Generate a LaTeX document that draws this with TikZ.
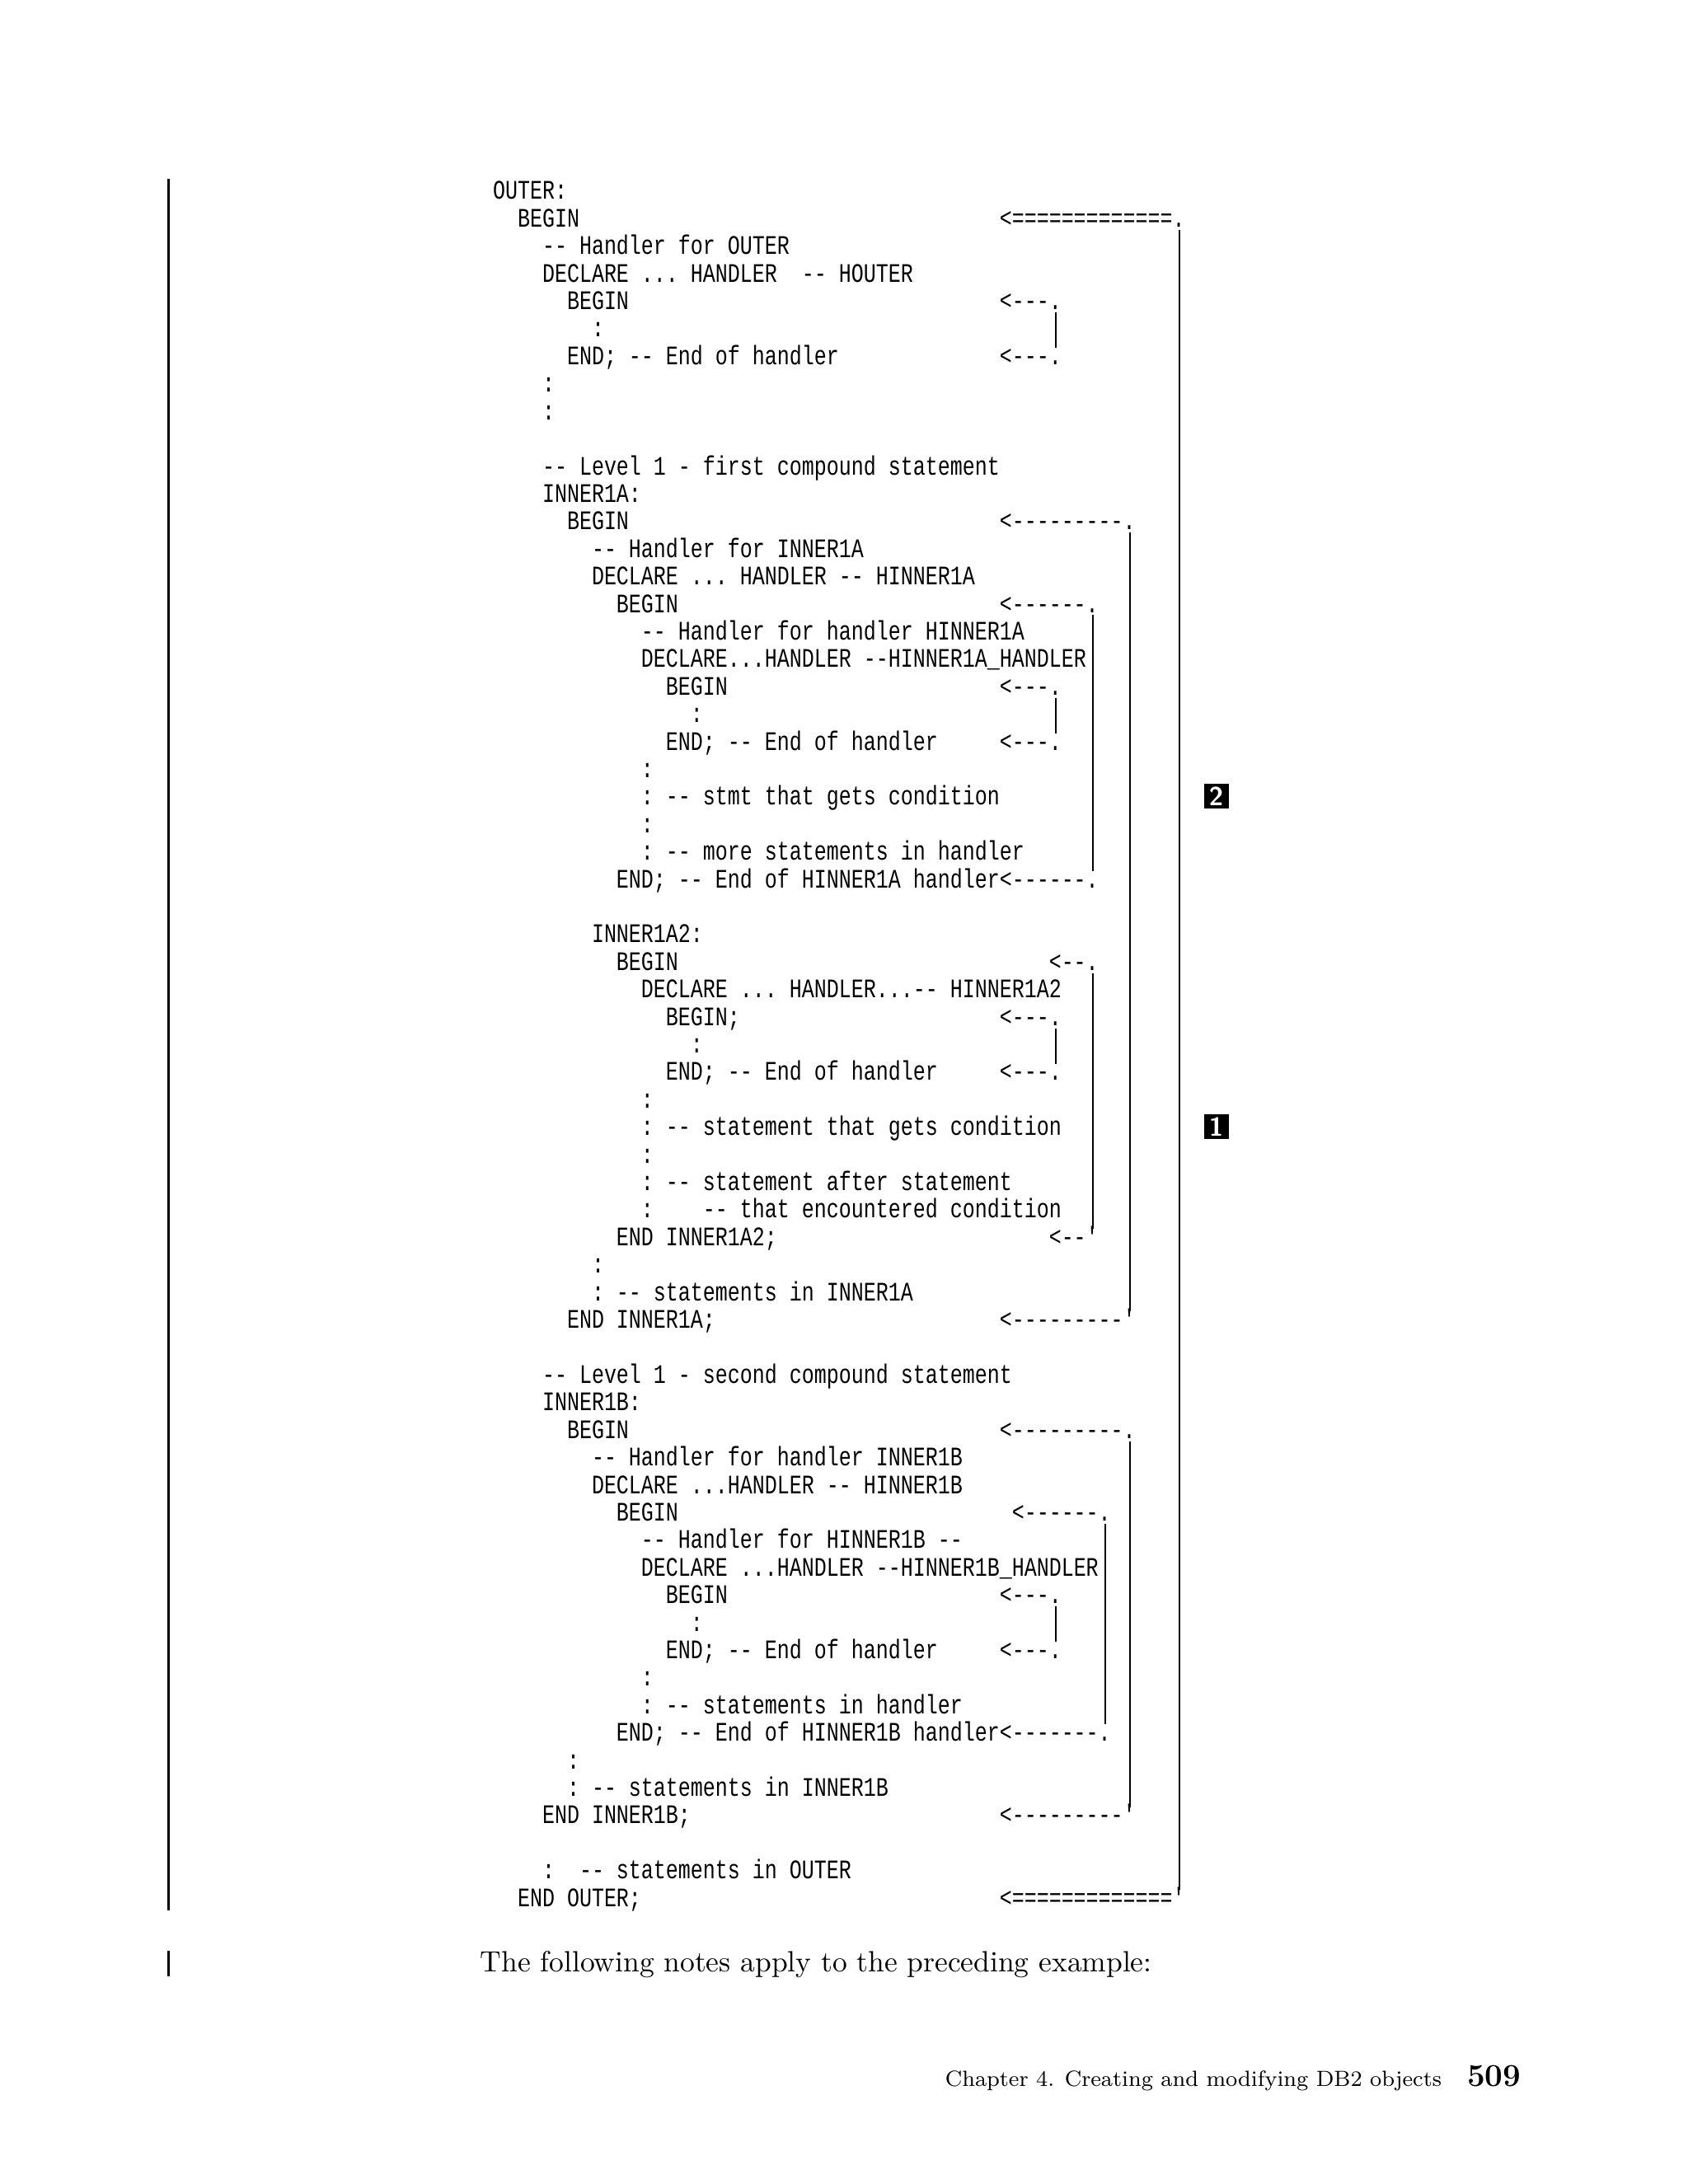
\documentclass[tikz,border=0pt]{standalone}
\usepackage{fontspec}
\setmonofont{Liberation Mono}
\newcommand\codeline[3]{\node[code] (r#1c#2) at ({353+#2*8.86},{143+#1*19.74}) {\scalebox{1}[1.3]{#3}};}
\newcommand\bracket[2]{%
    \path ([shift={(-4.4,2)}]#1.base east) coordinate (bt);
    \path ([shift={(-4.4,-12)}]#2.base east) coordinate (bb);
    \draw[bar] (bt) -- (bt |- bb);}
\begin{document}
\begin{tikzpicture}[x=0.016926cm, y=-0.016926cm,
    code/.style={anchor=base west, inner sep=0pt, font=\fontsize{7.11}{8}\ttfamily},
    bar/.style={line width=0.75pt},
    marker/.style={fill=black, text=white, inner sep=0pt, minimum size=0.3cm, font=\sffamily\bfseries\small}]
    \useasboundingbox (0,0) rectangle (1210,1566);
    % change bars
    \draw[bar] (121,128) -- (121,1370);
    \draw[bar] (121,1399) -- (121,1417);
    % outer block
    \codeline{0}{0}{OUTER:}
    \codeline{1}{2}{BEGIN}           \codeline{1}{41}{<=============.}
    \codeline{2}{4}{-- Handler for OUTER}
    \codeline{3}{4}{DECLARE ... HANDLER\ \ -- HOUTER}
    \codeline{4}{6}{BEGIN}           \codeline{4}{41}{<---.}
    \codeline{5}{8}{:}
    \codeline{6}{6}{END; -- End of handler} \codeline{6}{41}{<---.}
    \codeline{7}{4}{:}
    \codeline{8}{4}{:}
    % INNER1A
    \codeline{10}{4}{-- Level 1 - first compound statement}
    \codeline{11}{4}{INNER1A:}
    \codeline{12}{6}{BEGIN}          \codeline{12}{41}{<---------.}
    \codeline{13}{8}{-- Handler for INNER1A}
    \codeline{14}{8}{DECLARE ... HANDLER -- HINNER1A}
    \codeline{15}{10}{BEGIN}         \codeline{15}{41}{<------.}
    \codeline{16}{12}{-- Handler for handler HINNER1A}
    \codeline{17}{12}{DECLARE...HANDLER --HINNER1A\_HANDLER}
    \codeline{18}{14}{BEGIN}         \codeline{18}{41}{<---.}
    \codeline{19}{16}{:}
    \codeline{20}{14}{END; -- End of handler} \codeline{20}{41}{<---.}
    \codeline{21}{12}{:}
    \codeline{22}{12}{: -- stmt that gets condition}
    \codeline{23}{12}{:}
    \codeline{24}{12}{: -- more statements in handler}
    \codeline{25}{10}{END; -- End of HINNER1A handler} \codeline{25}{41}{<------.}
    % INNER1A2
    \codeline{27}{8}{INNER1A2:}
    \codeline{28}{10}{BEGIN}         \codeline{28}{45}{<--.}
    \codeline{29}{12}{DECLARE ... HANDLER...-- HINNER1A2}
    \codeline{30}{14}{BEGIN;}        \codeline{30}{41}{<---.}
    \codeline{31}{16}{:}
    \codeline{32}{14}{END; -- End of handler} \codeline{32}{41}{<---.}
    \codeline{33}{12}{:}
    \codeline{34}{12}{: -- statement that gets condition}
    \codeline{35}{12}{:}
    \codeline{36}{12}{: -- statement after statement}
    \codeline{37}{12}{:\ \ \ \ -- that encountered condition}
    \codeline{38}{10}{END INNER1A2;} \codeline{38}{45}{<--'}
    \codeline{39}{8}{:}
    \codeline{40}{8}{: -- statements in INNER1A}
    \codeline{41}{6}{END INNER1A;}   \codeline{41}{41}{<---------'}
    % INNER1B
    \codeline{43}{4}{-- Level 1 - second compound statement}
    \codeline{44}{4}{INNER1B:}
    \codeline{45}{6}{BEGIN}          \codeline{45}{41}{<---------.}
    \codeline{46}{8}{-- Handler for handler INNER1B}
    \codeline{47}{8}{DECLARE ...HANDLER -- HINNER1B}
    \codeline{48}{10}{BEGIN}         \codeline{48}{42}{<------.}
    \codeline{49}{12}{-- Handler for HINNER1B --}
    \codeline{50}{12}{DECLARE ...HANDLER --HINNER1B\_HANDLER}
    \codeline{51}{14}{BEGIN}         \codeline{51}{41}{<---.}
    \codeline{52}{16}{:}
    \codeline{53}{14}{END; -- End of handler} \codeline{53}{41}{<---.}
    \codeline{54}{12}{:}
    \codeline{55}{12}{: -- statements in handler}
    \codeline{56}{10}{END; -- End of HINNER1B handler} \codeline{56}{41}{<-------.}
    \codeline{57}{6}{:}
    \codeline{58}{6}{: -- statements in INNER1B}
    \codeline{59}{4}{END INNER1B;}   \codeline{59}{41}{<---------'}
    \codeline{61}{4}{:\ \ -- statements in OUTER}
    \codeline{62}{2}{END OUTER;}     \codeline{62}{41}{<============='}
    % brackets
    \bracket{r1c41}{r62c41}
    \bracket{r4c41}{r6c41}
    \bracket{r18c41}{r20c41}
    \bracket{r30c41}{r32c41}
    \bracket{r51c41}{r53c41}
    \bracket{r12c41}{r41c41}
    \bracket{r45c41}{r59c41}
    \bracket{r15c41}{r25c41}
    \bracket{r28c45}{r38c45}
    \bracket{r48c42}{r56c41}
    % note markers
    \node[marker] (m2) at (872,571) {2};
    \node[marker] (m1) at (872,808) {1};
    % running text
    \node[anchor=base west, inner sep=0pt, font=\fontsize{10.1}{12}\selectfont] (notes) at (344,1414) {The following notes apply to the preceding example:};
    \node[anchor=base east, inner sep=0pt, font=\fontsize{7.6}{9}\selectfont] (foot) at (1034,1496) {Chapter 4. Creating and modifying DB2 objects};
    \node[anchor=base east, inner sep=0pt, font=\fontsize{11}{13}\selectfont\bfseries] (page) at (1091,1496) {509};
\end{tikzpicture}
\end{document}
